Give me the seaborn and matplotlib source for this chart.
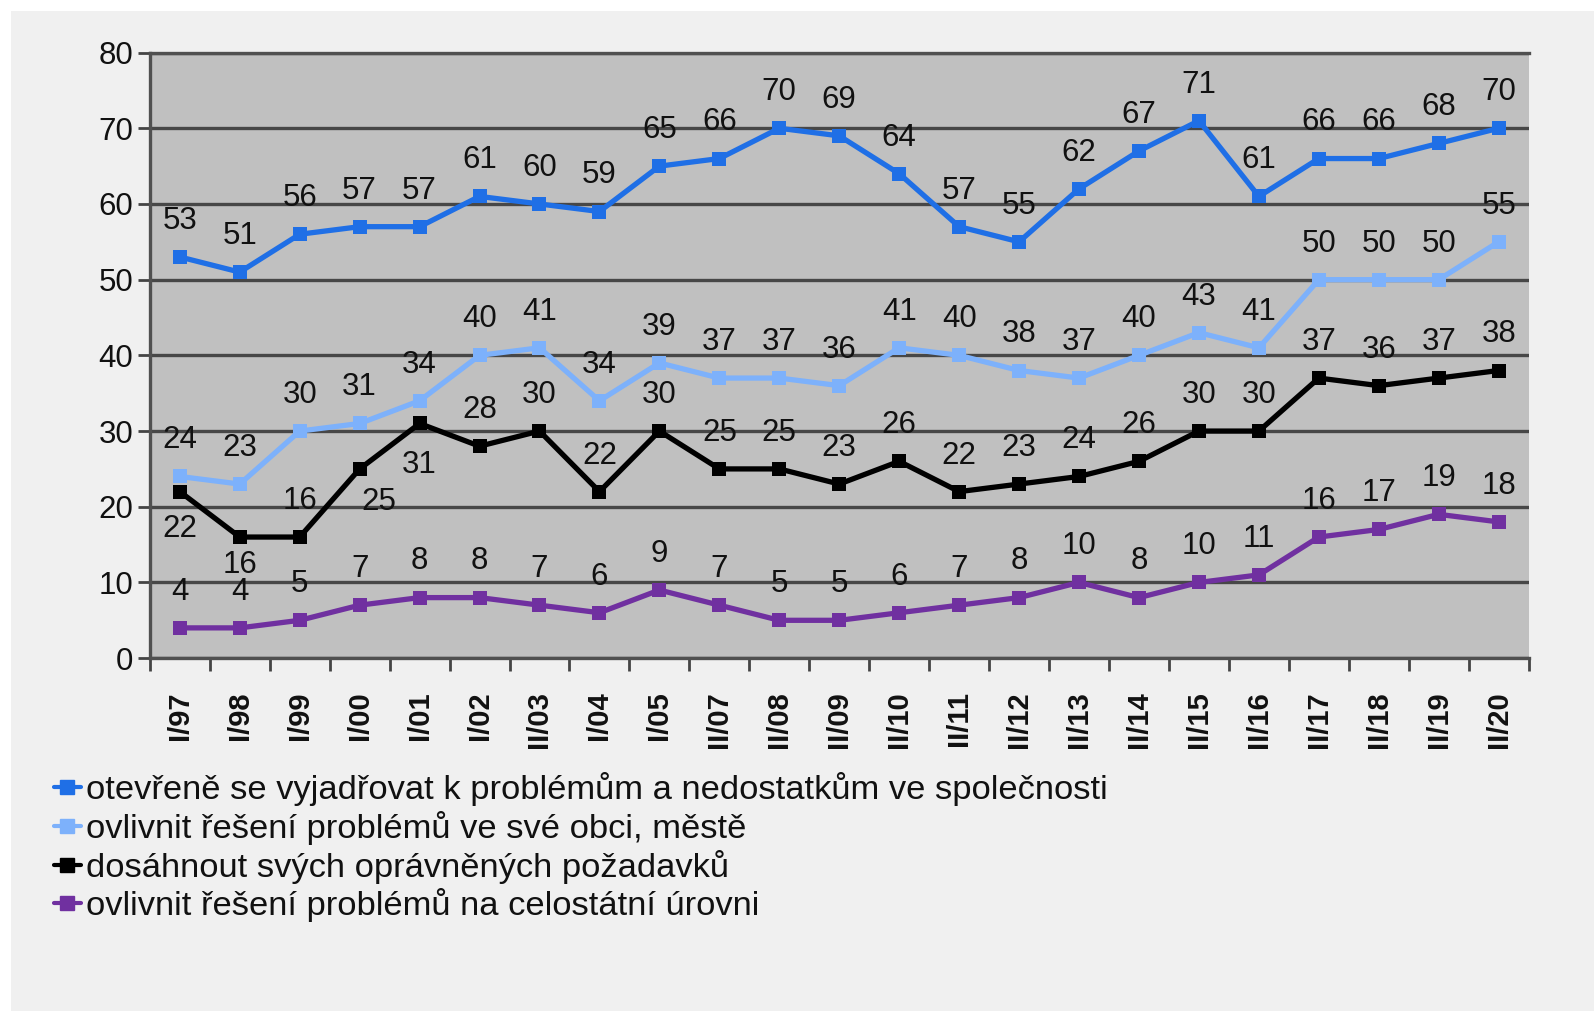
import numpy as np
import pandas as pd
import seaborn as sns
import matplotlib.pyplot as plt
from matplotlib.patches import Rectangle
from matplotlib.lines import Line2D

# Survey waves
periods = ['I/97', 'I/98', 'I/99', 'I/00', 'I/01', 'I/02', 'II/03', 'I/04', 'I/05',
           'II/07', 'II/08', 'II/09', 'II/10', 'II/11', 'II/12', 'II/13', 'II/14',
           'II/15', 'II/16', 'II/17', 'II/18', 'II/19', 'II/20']

series_names = [
    'otevřeně se vyjadřovat k problémům a nedostatkům ve společnosti',
    'ovlivnit řešení problémů ve své obci, městě',
    'dosáhnout svých oprávněných požadavků',
    'ovlivnit řešení problémů na celostátní úrovni',
]

openly = [53, 51, 56, 57, 57, 61, 60, 59, 65, 66, 70, 69, 64, 57, 55, 62, 67, 71, 61, 66, 66, 68, 70]
local = [24, 23, 30, 31, 34, 40, 41, 34, 39, 37, 37, 36, 41, 40, 38, 37, 40, 43, 41, 50, 50, 50, 55]
demands = [22, 16, 16, 25, 31, 28, 30, 22, 30, 25, 25, 23, 26, 22, 23, 24, 26, 30, 30, 37, 36, 37, 38]
national = [4, 4, 5, 7, 8, 8, 7, 6, 9, 7, 5, 5, 6, 7, 8, 10, 8, 10, 11, 16, 17, 19, 18]

colors = ['#1f6fe6', '#7db1fb', '#000000', '#7030a0']

# build long table for seaborn
df = pd.DataFrame({
    'x': np.tile(np.arange(len(periods)), 4),
    'value': openly + local + demands + national,
    'series': np.repeat(series_names, len(periods)),
})

sns.set_style('white', rc={'axes.facecolor': '#c0c0c0'})
plt.rcParams['font.family'] = ['Liberation Sans', 'DejaVu Sans']
plt.rcParams['text.color'] = '#111111'
plt.rcParams['xtick.color'] = '#111111'
plt.rcParams['ytick.color'] = '#111111'

fig = plt.figure(figsize=(15.94, 10.11), dpi=100, facecolor='white')
fig.patches.append(Rectangle((11 / 1594, 0.0), 1.0, 1 - 11 / 1011, transform=fig.transFigure,
                             facecolor='#f0f0f0', edgecolor='none', zorder=-10))
ax = fig.add_axes([0.094, 0.349, 0.865, 0.599])

sns.lineplot(data=df, x='x', y='value', hue='series', hue_order=series_names,
             palette=colors, marker='s', markersize=9.5, markeredgewidth=0,
             linewidth=3.8, dashes=False, legend=False, ax=ax, zorder=3)

# data labels, black series has a few labels under the points
below = {2: {0: (0, -27), 1: (0, -20), 3: (14, -24), 4: (0, -30)}}
for s, vals in enumerate([openly, local, demands, national]):
    for i, v in enumerate(vals):
        off = below.get(s, {}).get(i, (0, 26))
        ax.annotate(str(v), (i, v), xytext=off, textcoords='offset points',
                    ha='center', va='center', fontsize=22.5, color='#111111', zorder=5)

ax.set_xlim(-0.5, len(periods) - 0.5)
ax.set_ylim(0, 80)
ax.set_yticks(range(0, 81, 10))
ax.yaxis.grid(True, color='#474747', linewidth=2.4)
ax.set_axisbelow(True)

ax.set_xticks(range(len(periods)))
ax.set_xticklabels(periods, rotation=90, fontweight='bold', fontsize=21, va='top')
ax.set_xticks(np.arange(-0.5, len(periods), 1), minor=True)
ax.tick_params(axis='x', which='major', length=0, pad=24)
ax.tick_params(axis='x', which='minor', length=9, width=2, color='#444444', direction='out', bottom=True)
ax.tick_params(axis='y', length=9, width=2, color='#444444', labelsize=22.5, pad=3, left=True)
ax.set_xlabel('')
ax.set_ylabel('')

for side in ['left', 'bottom', 'top']:
    ax.spines[side].set_color('#505050')
    ax.spines[side].set_linewidth(2.4)
ax.spines['right'].set_visible(False)

handles = [Line2D([0], [0], color=c, marker='s', markersize=10, linewidth=3) for c in colors]
fig.legend(handles, series_names, loc='upper left', bbox_to_anchor=(0.025, 0.25),
           frameon=False, fontsize=24.8, handlelength=0.8, handletextpad=0.15,
           labelspacing=0.14, borderaxespad=0)

fig.savefig('out.png', dpi=100, facecolor=fig.get_facecolor())
